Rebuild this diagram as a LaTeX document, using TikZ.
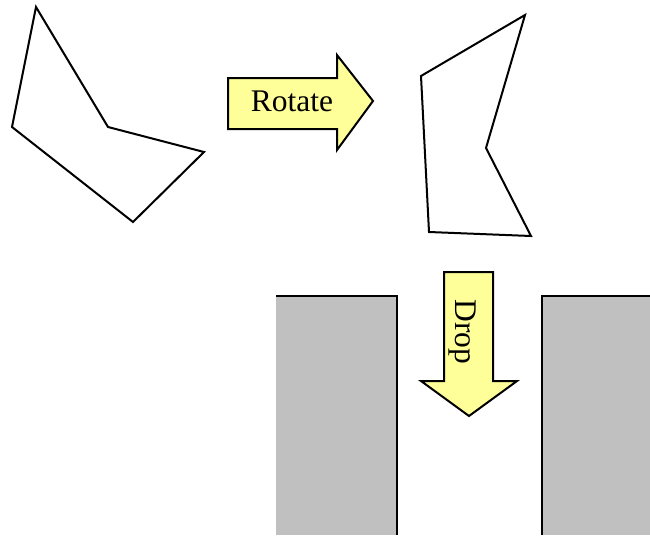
\documentclass[tikz,border=0pt]{standalone}
\usepackage{fontspec}
\setmainfont{Liberation Serif}
\usepackage{tikz}
\definecolor{arrowyellow}{HTML}{FFFF99}
\definecolor{wallgray}{HTML}{C0C0C0}
\begin{document}
\begin{tikzpicture}[x=1pt, y=-1pt, line width=2pt, line join=miter]

  \newcommand\ArrowFont{\fontsize{31.5}{36}\selectfont}

  \useasboundingbox (0,0) rectangle (650,535);

  %% walls
  \fill[wallgray] (276,296) rectangle (397,535);
  \fill[wallgray] (542,296) rectangle (650,535);
  \draw (276,296) -- (397,296) -- (397,535);
  \draw (542,535) -- (542,296) -- (651,296);

  %% shape before
  \draw (36,7) -- (108,127) -- (204,152) -- (133,222) -- (12,127) -- cycle;

  %% shape after
  \draw (525,15) -- (421,76) -- (429,232) -- (531,236) -- (486,148) -- cycle;

  %% rotate arrow
  \draw[fill=arrowyellow] (228,78) -- (337,78) -- (337,55) -- (373,101)
    -- (337,150) -- (337,129) -- (228,129) -- cycle;
  \node (rotate) at (292,101) {\ArrowFont Rotate};

  %% drop arrow
  \draw[fill=arrowyellow] (444,272) -- (493,272) -- (493,381) -- (517,381)
    -- (469,416) -- (421,381) -- (444,381) -- cycle;
  \node[rotate=-90] (drop) at (462,332) {\ArrowFont Drop};

\end{tikzpicture}
\end{document}
